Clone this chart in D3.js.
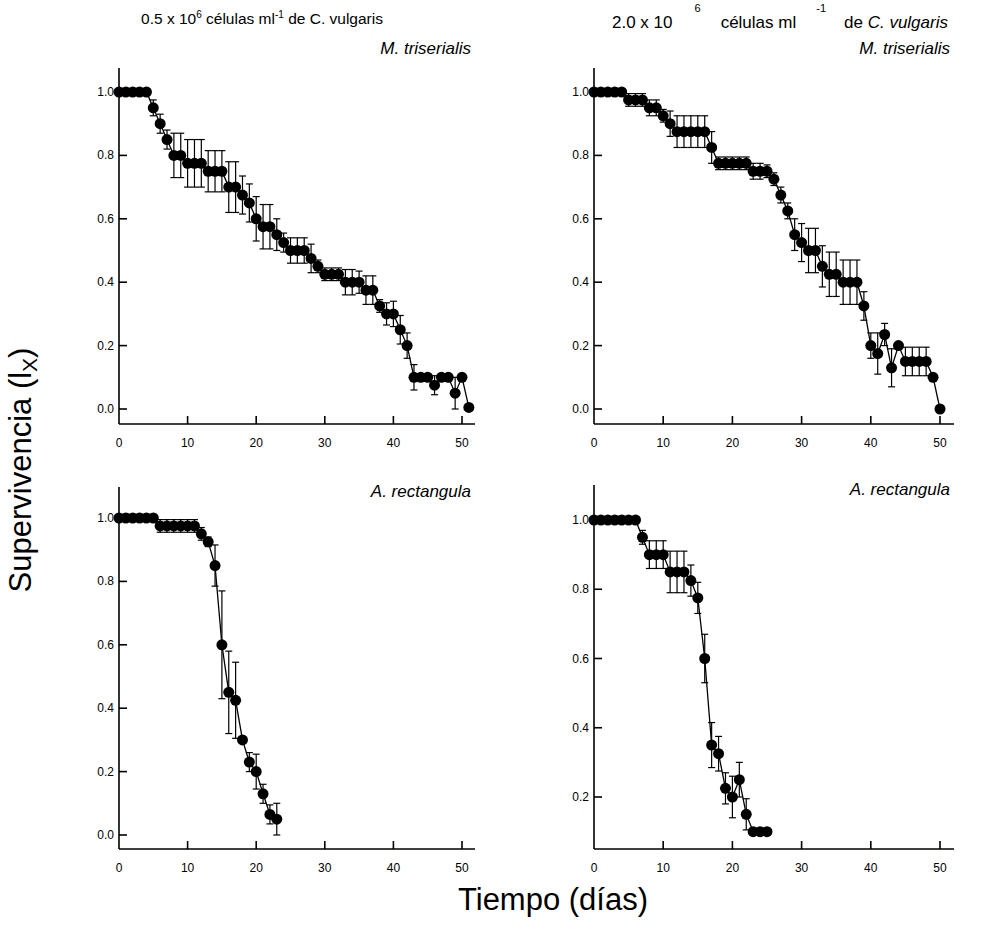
<!DOCTYPE html>
<html>
<head>
<meta charset="utf-8">
<script src="https://cdn.jsdelivr.net/npm/d3@7"></script>
<style>
body{margin:0;background:#fff;}
svg{display:block;font-family:"Liberation Sans",Arial,sans-serif;}
</style>
</head>
<body>
<script>
// survival (lx) per day
var daysMT1=d3.range(0,52);
var lxMT1=[1,1,1,1,1,0.95,0.90,0.85,0.80,0.80,0.775,0.775,0.775,0.75,0.75,0.75,0.70,0.70,0.675,0.65,
	0.60,0.575,0.575,0.55,0.525,0.50,0.50,0.50,0.475,0.45,0.425,0.425,0.425,0.40,0.40,0.40,0.375,0.375,0.325,0.30,
	0.30,0.25,0.20,0.10,0.10,0.10,0.075,0.10,0.10,0.05,0.10,0.005];
var seMT1=[0,0,0,0,0,0.025,0.03,0.03,0.07,0.07,0.075,0.075,0.075,0.065,0.065,0.065,0.08,0.08,0.06,0.06,
	0.07,0.07,0.07,0.05,0.03,0.04,0.04,0.04,0.045,0.02,0.02,0.02,0.02,0.04,0.04,0.035,0.045,0.045,0.02,0.035,
	0.04,0.045,0.04,0.04,0,0,0.03,0,0,0.05,0,0];

var daysMT2=d3.range(0,51);
var lxMT2=[1,1,1,1,1,0.975,0.975,0.975,0.95,0.95,0.925,0.90,0.875,0.875,0.875,0.875,0.875,0.825,0.775,0.775,
	0.775,0.775,0.775,0.75,0.75,0.75,0.725,0.675,0.625,0.55,0.525,0.50,0.50,0.45,0.425,0.425,0.40,0.40,0.40,0.325,
	0.20,0.175,0.235,0.13,0.20,0.15,0.15,0.15,0.15,0.10,0];
var seMT2=[0,0,0,0,0,0.02,0.02,0.02,0.025,0.025,0.02,0.04,0.05,0.05,0.05,0.05,0.05,0.05,0.02,0.02,
	0.02,0.02,0.02,0.025,0.025,0.02,0.02,0.025,0.025,0.05,0.06,0.07,0.07,0.065,0.07,0.07,0.07,0.07,0.07,0.045,
	0.04,0.065,0.035,0.06,0,0.045,0.045,0.045,0.045,0,0];

var daysAR1=d3.range(0,24);
var lxAR1=[1,1,1,1,1,1,0.975,0.975,0.975,0.975,0.975,0.975,0.95,0.925,0.85,0.60,0.45,0.425,0.30,0.23,
	0.20,0.13,0.065,0.05];
var seAR1=[0,0,0,0,0,0,0.02,0.02,0.02,0.02,0.02,0.02,0.02,0.015,0.065,0.17,0.13,0.12,0.01,0.03,
	0.055,0.03,0.03,0.05];

var daysAR2=d3.range(0,26);
var lxAR2=[1,1,1,1,1,1,1,0.95,0.90,0.90,0.90,0.85,0.85,0.85,0.825,0.775,0.60,0.35,0.325,0.225,
	0.20,0.25,0.15,0.10,0.10,0.10];
var seAR2=[0,0,0,0,0,0,0,0.02,0.04,0.04,0.04,0.06,0.06,0.06,0.045,0.045,0.07,0.065,0.05,0.045,
	0.06,0.05,0.045,0,0,0];

var xTicks=[0,10,20,30,40,50];
var yTicksFull=[0,0.2,0.4,0.6,0.8,1.0];
var yTicksCut=[0.2,0.4,0.6,0.8,1.0];
var speciesNames=["M. triserialis","M. triserialis","A. rectangula","A. rectangula"];

// panel frames (pixels)
var panels=[
	{days:daysMT1,lx:lxMT1,se:seMT1,yd:[0,1],yt:yTicksFull,x0:119,x50:462,xEnd:475,yLo:409,yHi:92,axisY:424,axisTop:68},
	{days:daysMT2,lx:lxMT2,se:seMT2,yd:[0,1],yt:yTicksFull,x0:594,x50:940,xEnd:954,yLo:409,yHi:92,axisY:424,axisTop:68},
	{days:daysAR1,lx:lxAR1,se:seAR1,yd:[0,1],yt:yTicksFull,x0:119,x50:462,xEnd:475,yLo:835,yHi:518,axisY:849,axisTop:487},
	{days:daysAR2,lx:lxAR2,se:seAR2,yd:[0.2,1],yt:yTicksCut,x0:594,x50:940,xEnd:954,yLo:797,yHi:520,axisY:849,axisTop:485}
];

var svg=d3.select("body").append("svg")
	.attr("width",981)
	.attr("height",948);

panels.forEach(function(p,i){
	var x=d3.scaleLinear().domain([0,50]).range([p.x0,p.x50]);
	var y=d3.scaleLinear().domain(p.yd).range([p.yLo,p.yHi]);
	var g=svg.append("g");

	//axes lines
	g.append("line").attr("x1",p.x0).attr("x2",p.x0).attr("y1",p.axisTop).attr("y2",p.axisY)
		.attr("stroke","#000").attr("stroke-width",1.6);
	g.append("line").attr("x1",p.x0).attr("x2",p.xEnd).attr("y1",p.axisY).attr("y2",p.axisY)
		.attr("stroke","#000").attr("stroke-width",1.6);

	//y ticks (inward) and labels
	g.selectAll(".yt").data(p.yt).enter().append("line")
		.attr("x1",p.x0).attr("x2",p.x0+8)
		.attr("y1",function(d){return y(d);}).attr("y2",function(d){return y(d);})
		.attr("stroke","#000").attr("stroke-width",1.6);
	g.selectAll(".yl").data(p.yt).enter().append("text")
		.attr("x",p.x0-5).attr("y",function(d){return y(d)+4;})
		.attr("text-anchor","end").attr("font-size",12)
		.text(function(d){return d3.format(".1f")(d);});

	//x ticks (inward) and labels
	g.selectAll(".xt").data(xTicks.slice(1)).enter().append("line")
		.attr("x1",function(d){return x(d);}).attr("x2",function(d){return x(d);})
		.attr("y1",p.axisY).attr("y2",p.axisY-8)
		.attr("stroke","#000").attr("stroke-width",1.6);
	g.selectAll(".xl").data(xTicks).enter().append("text")
		.attr("x",function(d){return x(d);}).attr("y",p.axisY+23)
		.attr("text-anchor","middle").attr("font-size",12)
		.text(function(d){return d;});

	var pts=p.days.map(function(d,k){return {d:d,v:p.lx[k],e:p.se[k]};});

	//error bars
	var eb=g.selectAll(".eb").data(pts.filter(function(q){return q.e>0;})).enter().append("g");
	eb.append("line")
		.attr("x1",function(q){return x(q.d);}).attr("x2",function(q){return x(q.d);})
		.attr("y1",function(q){return y(q.v+q.e);}).attr("y2",function(q){return y(q.v-q.e);})
		.attr("stroke","#000").attr("stroke-width",1.2);
	[1,-1].forEach(function(s){
		eb.append("line")
			.attr("x1",function(q){return x(q.d)-3.5;}).attr("x2",function(q){return x(q.d)+3.5;})
			.attr("y1",function(q){return y(q.v+s*q.e);}).attr("y2",function(q){return y(q.v+s*q.e);})
			.attr("stroke","#000").attr("stroke-width",1.2);
	});

	//line
	var line=d3.line().x(function(q){return x(q.d);}).y(function(q){return y(q.v);});
	g.append("path").datum(pts).attr("d",line)
		.attr("fill","none").attr("stroke","#000").attr("stroke-width",1.3);

	//dots
	g.selectAll(".dot").data(pts).enter().append("circle")
		.attr("cx",function(q){return x(q.d);}).attr("cy",function(q){return y(q.v);})
		.attr("r",5.5).attr("fill","#000");

	//species label
	g.append("text")
		.attr("x",p.xEnd-4).attr("y",p.axisTop-(i<2?14:-10))
		.attr("text-anchor","end").attr("font-size",17).attr("font-style","italic")
		.text(speciesNames[i]);
});

//column titles
var t1=svg.append("text").attr("x",262).attr("y",24).attr("text-anchor","middle").attr("font-size",15.5);
t1.append("tspan").text("0.5 x 10");
t1.append("tspan").attr("dy",-6).attr("font-size",10).text("6");
t1.append("tspan").attr("dy",6).text(" células ml");
t1.append("tspan").attr("dy",-6).attr("font-size",10).text("-1");
t1.append("tspan").attr("dy",6).text(" de C. vulgaris");

var t2=svg.append("text").attr("x",780).attr("y",28).attr("text-anchor","middle").attr("font-size",17);
t2.append("tspan").text("2.0 x 10");
t2.append("tspan").attr("dx",22).attr("dy",-16).attr("font-size",11).text("6");
t2.append("tspan").attr("dx",20).attr("dy",16).text("células ml");
t2.append("tspan").attr("dx",20).attr("dy",-16).attr("font-size",11).text("-1");
t2.append("tspan").attr("dx",18).attr("dy",16).text("de ");
t2.append("tspan").attr("font-style","italic").text("C. vulgaris");

//axis titles
var yl=svg.append("text").attr("transform","translate(31,470) rotate(-90)")
	.attr("text-anchor","middle").attr("font-size",31);
yl.append("tspan").text("Supervivencia (l");
yl.append("tspan").attr("dy",6).attr("font-size",21).text("X");
yl.append("tspan").attr("dy",-6).text(")");

svg.append("text").attr("x",553).attr("y",910).attr("text-anchor","middle").attr("font-size",31)
	.text("Tiempo (días)");
</script>
</body>
</html>
